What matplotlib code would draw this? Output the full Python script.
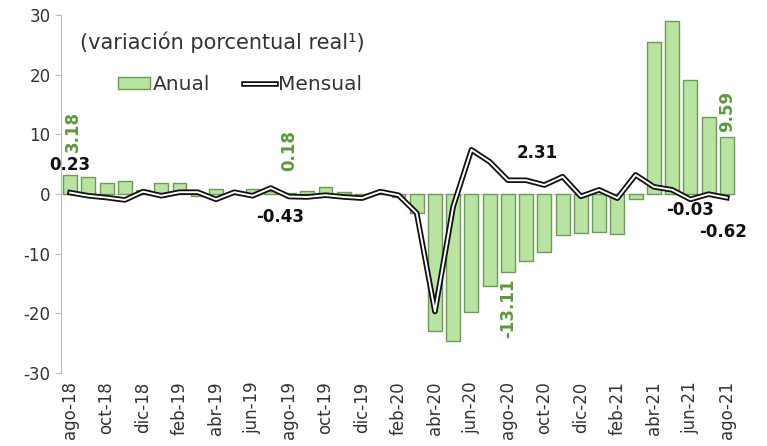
import numpy as np
import matplotlib

matplotlib.use("Agg")
import matplotlib.pyplot as plt
import matplotlib.patheffects as pe

# ── datos ─────────────────────────────────────────────
meses = [
    "ago-18", "sep-18", "oct-18", "nov-18", "dic-18", "ene-19", "feb-19",
    "mar-19", "abr-19", "may-19", "jun-19", "jul-19", "ago-19", "sep-19",
    "oct-19", "nov-19", "dic-19", "ene-20", "feb-20", "mar-20", "abr-20",
    "may-20", "jun-20", "jul-20", "ago-20", "sep-20", "oct-20", "nov-20",
    "dic-20", "ene-21", "feb-21", "mar-21", "abr-21", "may-21", "jun-21",
    "jul-21", "ago-21",
]
anual = [
    3.18, 2.9, 1.8, 2.1, 0.7, 1.9, 1.9, -0.3, 0.8, 0.2, 0.9, 0.5, 0.18,
    0.5, 1.1, 0.3, -0.3, 0.2, -0.5, -3.2, -23.0, -24.6, -19.8, -15.4,
    -13.11, -11.2, -9.8, -6.9, -6.6, -6.3, -6.7, -0.8, 25.5, 29.0, 19.1,
    12.9, 9.59,
]
mensual = [
    0.23, -0.3, -0.6, -1.0, 0.4, -0.3, 0.3, 0.3, -0.9, 0.3, -0.3, 1.0,
    -0.43, -0.5, -0.2, -0.5, -0.7, 0.4, -0.2, -3.2, -19.7, -2.1, 7.4,
    5.4, 2.31, 2.3, 1.5, 2.9, -0.4, 0.7, -0.7, 3.2, 1.2, 0.7, -0.9,
    -0.03, -0.62,
]

VERDE = "#b8e3a0"
BORDE = "#6b9b55"
VERDE_TXT = "#5a9a3c"
GRIS = "#333333"

plt.rcParams["font.family"] = ["DejaVu Sans"]
plt.rcParams["axes.unicode_minus"] = False

fig = plt.figure(figsize=(7.67, 4.46), dpi=100)
ax = fig.add_axes([0.0795, 0.1637, 0.880, 0.8027])

x = np.arange(len(meses))
barras = ax.bar(x, anual, width=0.76, color=VERDE, edgecolor=BORDE,
                linewidth=1.0, label="Anual", zorder=2)
linea, = ax.plot(x, mensual, color="white", linewidth=1.4, label="Mensual",
                 zorder=3,
                 path_effects=[pe.Stroke(linewidth=4, foreground="#111111"),
                               pe.Normal()])

ax.axhline(0, color="#c8c8c8", linewidth=0.8, zorder=1)

ax.set_xlim(-0.5, len(meses) - 0.5)
ax.set_ylim(-30, 30)
ax.set_yticks([-30, -20, -10, 0, 10, 20, 30])
ax.set_xticks(x[::2])
ax.set_xticklabels(meses[::2], rotation=90)
ax.tick_params(axis="x", length=0, labelsize=12, colors=GRIS, pad=6)
ax.tick_params(axis="y", length=4, labelsize=12, colors=GRIS, color="#bbbbbb")

for s in ["top", "right", "bottom"]:
    ax.spines[s].set_visible(False)
ax.spines["left"].set_color("#bbbbbb")

# etiquetas de valores
ax.text(0.15, 10.5, "3.18", rotation=90, color=VERDE_TXT, fontsize=12,
        fontweight="bold", ha="center", va="center")
ax.text(0.0, 4.8, "0.23", color="#111111", fontsize=12, fontweight="bold",
        ha="center", va="center")
ax.text(12.0, 7.3, "0.18", rotation=90, color=VERDE_TXT, fontsize=12,
        fontweight="bold", ha="center", va="center")
ax.text(11.5, -3.9, "-0.43", color="#111111", fontsize=12, fontweight="bold",
        ha="center", va="center")
ax.text(25.6, 6.9, "2.31", color="#111111", fontsize=12, fontweight="bold",
        ha="center", va="center")
ax.text(24.0, -19.1, "-13.11", rotation=90, color=VERDE_TXT, fontsize=12,
        fontweight="bold", ha="center", va="center")
ax.text(36.0, 13.9, "9.59", rotation=90, color=VERDE_TXT, fontsize=12,
        fontweight="bold", ha="center", va="center")
ax.text(34.0, -2.7, "-0.03", color="#111111", fontsize=12, fontweight="bold",
        ha="center", va="center")
ax.text(35.8, -6.4, "-0.62", color="#111111", fontsize=12, fontweight="bold",
        ha="center", va="center")

ax.text(0.028, 0.925, "(variación porcentual real¹)", transform=ax.transAxes,
        fontsize=15, color=GRIS, ha="left", va="center")

leg = ax.legend(handles=[barras, linea], loc="center left",
                bbox_to_anchor=(0.058, 0.805), ncol=2, frameon=False,
                fontsize=14.5, handlelength=1.6, handleheight=0.5,
                handletextpad=0.1, columnspacing=1.7)
for t in leg.get_texts():
    t.set_color(GRIS)

fig.savefig("out.png", dpi=100)
